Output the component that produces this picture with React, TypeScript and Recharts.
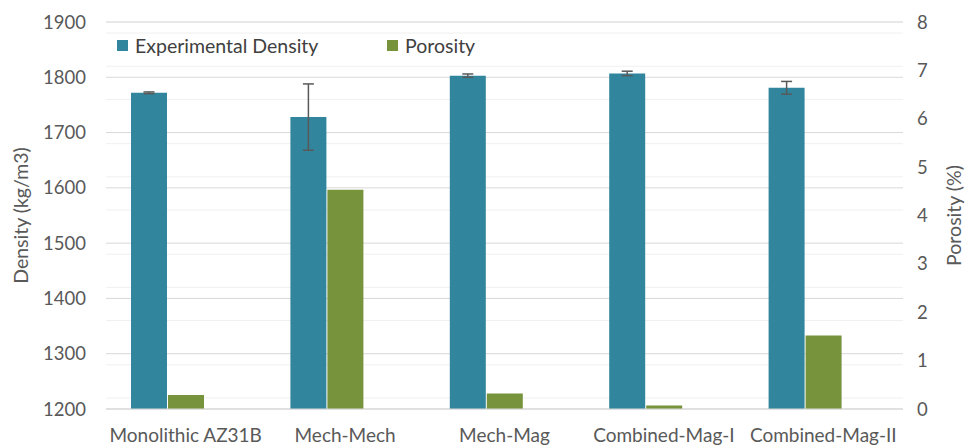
import React from "react";
import {
  ComposedChart,
  Bar,
  ErrorBar,
  XAxis,
  YAxis,
  CartesianGrid,
  Legend,
} from "recharts";

const categories = ["Monolithic AZ31B", "Mech-Mech", "Mech-Mag", "Combined-Mag-I", "Combined-Mag-II"];
const density = [1772, 1728, 1803, 1807, 1781];
const densityErr = [1.5, 60, 3, 4, 11.5];
const porosity = [0.29, 4.53, 0.32, 0.07, 1.52];

const densityTicks = [1200, 1300, 1400, 1500, 1600, 1700, 1800, 1900];
const porosityTicks = [0, 1, 2, 3, 4, 5, 6, 7, 8];
const minorTicks = [
  1220, 1240, 1260, 1280, 1320, 1340, 1360, 1380, 1420, 1440, 1460, 1480,
  1520, 1540, 1560, 1580, 1620, 1640, 1660, 1680, 1720, 1740, 1760, 1780,
  1820, 1840, 1860, 1880,
];

const data = categories.map((name, i) => ({
  name,
  density: density[i],
  err: densityErr[i],
  porosity: porosity[i],
}));

const BLUE = "#31859C";
const GREEN = "#77933C";
const FONT = "Lato, 'Open Sans', sans-serif";

const legendItems = [
  { label: "Experimental Density", color: BLUE, width: 270 },
  { label: "Porosity", color: GREEN, width: 100 },
];

function ChartLegend() {
  return (
    <div style={{ display: "flex", background: "#fff", fontFamily: FONT, fontSize: 19.5, color: "#404040" }}>
      {legendItems.map((it) => (
        <div key={it.label} style={{ display: "flex", alignItems: "center", width: it.width }}>
          <span style={{ width: 11, height: 11, background: it.color, marginRight: 7, display: "inline-block" }} />
          <span>{it.label}</span>
        </div>
      ))}
    </div>
  );
}

export default function App() {
  const tick = { fill: "#595959", fontSize: 18.5, fontFamily: FONT };
  const xTick = { fill: "#595959", fontSize: 19, fontFamily: FONT };
  const axisLabel = { textAnchor: "middle", fill: "#595959", fontSize: 19.5, fontFamily: FONT };
  return (
    <div style={{ position: "absolute", left: 0, top: 0, background: "#fff" }}>
      <ComposedChart
        width={965}
        height={446}
        data={data}
        margin={{ top: 22, right: 0, bottom: 0, left: 0 }}
        barSize={36}
        barGap={1}
      >
        {/* minor gridlines come from a hidden axis sharing the density domain */}
        <CartesianGrid yAxisId="minor" vertical={false} stroke="#f0f0f0" />
        <CartesianGrid yAxisId="left" vertical={false} stroke="#d9d9d9" />
        <XAxis
          dataKey="name"
          interval={0}
          height={37}
          tickLine={false}
          axisLine={{ stroke: "#d9d9d9" }}
          tickMargin={14}
          tick={xTick}
        />
        <YAxis yAxisId="minor" hide domain={[1200, 1900]} ticks={minorTicks} allowDataOverflow />
        <YAxis
          yAxisId="left"
          width={106}
          domain={[1200, 1900]}
          ticks={densityTicks}
          allowDataOverflow
          axisLine={false}
          tickLine={false}
          tickMargin={14}
          tick={tick}
          label={{
            value: "Density (kg/m3)",
            angle: -90,
            position: "insideLeft",
            offset: 21,
            style: axisLabel,
          }}
        />
        <YAxis
          yAxisId="right"
          orientation="right"
          width={62}
          domain={[0, 8]}
          ticks={porosityTicks}
          axisLine={false}
          tickLine={false}
          tickMargin={8}
          tick={tick}
          label={{
            value: "Porosity (%)",
            angle: -90,
            position: "insideRight",
            offset: 11,
            style: axisLabel,
          }}
        />
        <Legend
          layout="vertical"
          align="center"
          verticalAlign="middle"
          wrapperStyle={{ top: 34, left: 117, width: "auto" }}
          content={() => <ChartLegend />}
        />
        <Bar yAxisId="left" dataKey="density" name="Experimental Density" fill={BLUE} isAnimationActive={false}>
          <ErrorBar dataKey="err" width={5.5} stroke="#595959" strokeWidth={1.5} direction="y" />
        </Bar>
        <Bar yAxisId="right" dataKey="porosity" name="Porosity" fill={GREEN} isAnimationActive={false} />
        <Bar yAxisId="right" dataKey="spacer" legendType="none" fill="none" isAnimationActive={false} />
      </ComposedChart>
    </div>
  );
}
